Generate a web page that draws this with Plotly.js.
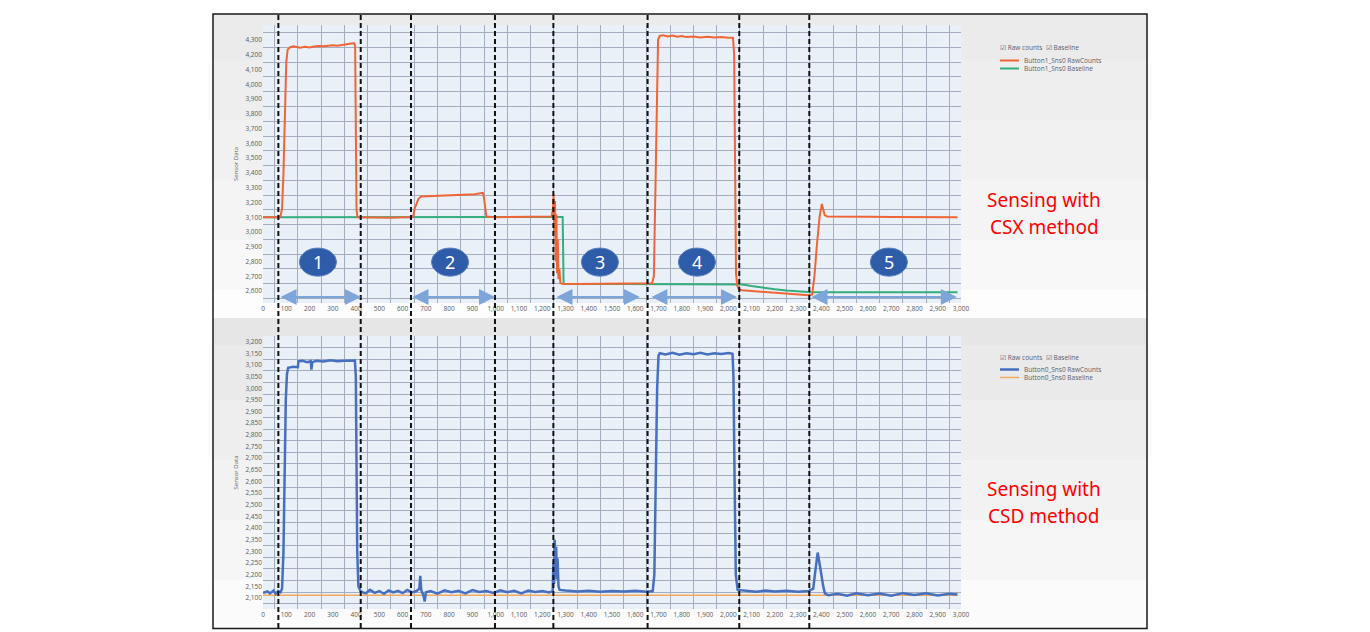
<!DOCTYPE html>
<html><head><meta charset="utf-8">
<script src="https://cdn.plot.ly/plotly-3.0.1.min.js"></script>
<style>html,body{margin:0;padding:0;background:#fff;}#chart{width:1370px;height:632px;}</style>
</head><body><div id="chart"></div>
<script>
// ---------- data ----------
const xTicks = [0,100,200,300,400,500,600,700,800,900,1000,1100,1200,1300,1400,1500,1600,1700,1800,1900,2000,2100,2200,2300,2400,2500,2600,2700,2800,2900,3000];
const csxYTicks = [2600,2700,2800,2900,3000,3100,3200,3300,3400,3500,3600,3700,3800,3900,4000,4100,4200,4300];
const csdYTicks = [2100,2150,2200,2250,2300,2350,2400,2450,2500,2550,2600,2650,2700,2750,2800,2850,2900,2950,3000,3050,3100,3150,3200];

const csxRawX = [0,40,60,75,82,88,94,100,106,115,130,145,160,180,200,220,240,260,280,300,320,340,360,380,392,396,399,402,406,450,500,550,600,640,646,652,660,668,680,720,760,800,840,880,910,935,945,950,955,960,1000,1100,1200,1240,1246,1249,1252,1255,1258,1261,1264,1267,1270,1274,1278,1285,1350,1450,1550,1650,1672,1680,1686,1692,1698,1705,1720,1740,1760,1780,1800,1820,1850,1880,1910,1940,1970,2000,2020,2025,2029,2033,2038,2045,2060,2100,2150,2200,2250,2300,2345,2360,2370,2380,2392,2402,2408,2414,2425,2500,2600,2700,2800,2900,2985];
const csxRawY = [3100,3098,3100,3105,3160,3400,3800,4150,4235,4250,4258,4252,4248,4255,4250,4256,4260,4258,4263,4265,4262,4268,4272,4276,4278,4260,3700,3150,3100,3098,3100,3097,3100,3100,3110,3160,3190,3225,3240,3242,3245,3246,3248,3250,3255,3262,3265,3230,3150,3105,3100,3100,3102,3105,3150,3255,3000,3210,2800,3120,2720,2950,2680,2750,2655,2650,2648,2650,2649,2650,2652,2700,3300,4000,4300,4328,4332,4325,4330,4322,4327,4320,4324,4318,4322,4317,4320,4316,4315,4200,3300,2720,2640,2612,2605,2600,2596,2590,2585,2578,2572,2575,2700,2900,3100,3190,3160,3115,3105,3102,3103,3101,3102,3101,3100];
const csxBaseX = [0,1240,1288,1292,2045,2060,2100,2150,2200,2250,2300,2350,2360,2985];
const csxBaseY = [3100,3102,3102,2650,2650,2645,2634,2622,2612,2604,2598,2594,2592,2592];

const csdRawX = [0,20,30,45,55,65,75,82,88,93,98,103,108,130,150,152,170,190,205,208,212,230,260,290,320,350,380,395,399,402,405,410,420,440,460,480,500,520,540,560,580,600,620,640,660,672,676,680,690,695,700,720,750,780,810,840,870,900,930,960,990,1020,1050,1080,1110,1140,1170,1200,1230,1245,1248,1251,1254,1257,1260,1263,1266,1270,1275,1300,1350,1400,1450,1500,1550,1600,1650,1675,1682,1688,1694,1700,1705,1730,1760,1790,1820,1850,1880,1910,1940,1970,2000,2018,2022,2027,2032,2040,2080,2120,2160,2200,2250,2300,2345,2365,2372,2380,2384,2390,2396,2402,2408,2415,2430,2470,2510,2550,2600,2650,2700,2750,2800,2850,2900,2950,2985];
const csdRawY = [2122,2128,2120,2132,2118,2130,2125,2140,2300,2700,2950,3060,3088,3092,3090,3115,3118,3112,3116,3080,3112,3118,3115,3120,3116,3118,3117,3119,3050,2700,2300,2150,2128,2120,2135,2122,2130,2118,2133,2124,2131,2121,2135,2124,2130,2140,2195,2135,2110,2085,2125,2130,2119,2133,2125,2131,2120,2134,2126,2130,2122,2133,2125,2131,2120,2132,2126,2130,2124,2130,2250,2160,2350,2200,2320,2180,2270,2150,2135,2132,2128,2131,2127,2130,2128,2131,2127,2130,2200,2600,3000,3140,3150,3145,3152,3144,3150,3146,3152,3145,3150,3147,3151,3148,3050,2600,2200,2135,2130,2127,2132,2128,2131,2127,2130,2140,2200,2280,2295,2260,2220,2200,2150,2120,2112,2118,2110,2120,2112,2119,2110,2121,2113,2120,2111,2118,2115];
const csdBaseX = [0,1000,2000,2985];
const csdBaseY = [2112,2112,2112,2112];

const boundaryX = [66,420,636,997,1248,1653,2047,2348];
const stepLabels = ['1','2','3','4','5'];
const stepCenterX = [236,804,1448,1865,2690];
const stepCenterY = 2796;
const arrowStartX = [69,636,1255,1663,2351];
const arrowEndX = [421,997,1620,2037,2982];
const arrowY = 2559;

// ---------- helpers (pixel -> paper) ----------
const W = 1370, H = 632;
const px = x => x / W;
const py = y => 1 - y / H;

const tickFont = {family: 'Open Sans, sans-serif', size: 6.5, color: '#5a5a5a'};
const gridCol = '#a3adbd';
const plotBg = '#eaf0f8';

function xAxis(anchor) {
  return {domain: [px(263), px(961)], range: [0, 3000], anchor: anchor,
    tickmode: 'array', tickvals: xTicks, tickformat: ',d', tickfont: tickFont,
    showgrid: false, zeroline: false, showline: false, ticks: '',
    minor: {tickmode: 'linear', tick0: 50, dtick: 100, showgrid: true, gridcolor: gridCol, gridwidth: 1, ticks: ''}};
}
function yAxis(anchor, domain, range, ticks, minor0, minorStep) {
  return {domain: domain, range: range, anchor: anchor,
    tickmode: 'array', tickvals: ticks, tickformat: ',d', tickfont: tickFont,
    showgrid: false, zeroline: false, showline: false, ticks: '',
    title: {text: 'Sensor Data', font: {family: 'Open Sans, sans-serif', size: 6, color: '#666'}, standoff: 6},
    minor: {tickmode: 'linear', tick0: minor0, dtick: minorStep, showgrid: true, gridcolor: gridCol, gridwidth: 1, ticks: ''}};
}

const traces = [
  {x: csxBaseX, y: csxBaseY, xaxis: 'x', yaxis: 'y', mode: 'lines', name: 'Button1_Sns0 Baseline', line: {color: '#35ad7c', width: 2}, showlegend: false},
  {x: csxRawX, y: csxRawY, xaxis: 'x', yaxis: 'y', mode: 'lines', name: 'Button1_Sns0 RawCounts', line: {color: '#ef6535', width: 2}, showlegend: false},
  {x: csdBaseX, y: csdBaseY, xaxis: 'x2', yaxis: 'y2', mode: 'lines', name: 'Button0_Sns0 Baseline', line: {color: '#f2a95e', width: 1.5}, showlegend: false},
  {x: csdRawX, y: csdRawY, xaxis: 'x2', yaxis: 'y2', mode: 'lines', name: 'Button0_Sns0 RawCounts', line: {color: '#4670bf', width: 2.5}, showlegend: false}
];

const shapes = [];
// panel backgrounds (graded bands)
const bands = [[14,60,'#ebebeb'],[60,120,'#eeeeee'],[120,180,'#f1f1f1'],[180,240,'#f4f4f4'],[240,290,'#f8f8f8'],[290,318,'#fdfdfd'],
  [318,345,'#e6e6e6'],[345,400,'#eaeaea'],[400,460,'#eeeeee'],[460,520,'#f2f2f2'],[520,580,'#f6f6f6'],[580,629,'#fbfbfb']];
bands.forEach(b => shapes.push({type: 'rect', xref: 'paper', yref: 'paper', x0: px(213), x1: px(1147), y0: py(b[1]), y1: py(b[0]), fillcolor: b[2], line: {width: 0}, layer: 'below'}));
// plot-area backgrounds (drawn over the bands, under the grid)
[[25,303],[336,609]].forEach(r => shapes.push({type: 'rect', xref: 'paper', yref: 'paper', x0: px(263), x1: px(961), y0: py(r[1]), y1: py(r[0]), fillcolor: plotBg, line: {width: 0}, layer: 'below'}));
// outer frame
shapes.push({type: 'rect', xref: 'paper', yref: 'paper', x0: px(213), x1: px(1147), y0: py(628.5), y1: py(14), line: {color: '#1a1a1a', width: 1.5}, fillcolor: 'rgba(0,0,0,0)', layer: 'above'});
// dashed boundary lines across both panels
boundaryX.forEach(x => shapes.push({type: 'line', xref: 'x', yref: 'paper', x0: x, x1: x, y0: py(628), y1: py(14), line: {color: '#111', width: 2, dash: '5px,3px'}, layer: 'above'}));
// numbered step badges
stepCenterX.forEach(x => shapes.push({type: 'circle', xref: 'x', yref: 'y', x0: x - 80, x1: x + 80, y0: stepCenterY - 95, y1: stepCenterY + 95, fillcolor: '#2f5ca9', line: {color: '#5b80c0', width: 1}, layer: 'above'}));
// manual legends
const legendLines = [[60.5,'#ef6535',2],[68.5,'#35ad7c',2],[369.5,'#4670bf',2.5],[377.5,'#f2a95e',1.5]];
legendLines.forEach(l => shapes.push({type: 'line', xref: 'paper', yref: 'paper', x0: px(1000), x1: px(1019), y0: py(l[0]), y1: py(l[0]), line: {color: l[1], width: l[2]}}));

const annotations = [];
stepLabels.forEach((t, i) => annotations.push({xref: 'x', yref: 'y', x: stepCenterX[i], y: stepCenterY, text: t, showarrow: false, font: {family: 'Noto Sans, sans-serif', size: 18, color: '#ffffff'}}));
arrowStartX.forEach((s, i) => annotations.push({xref: 'x', yref: 'y', axref: 'x', ayref: 'y', x: arrowEndX[i], y: arrowY, ax: s, ay: arrowY, text: '', showarrow: true, arrowside: 'end+start', arrowhead: 2, startarrowhead: 2, arrowsize: 1.6, startarrowsize: 1.6, arrowwidth: 2, arrowcolor: '#7ea5da', standoff: 0, startstandoff: 0}));
const legFont = {family: 'Open Sans, sans-serif', size: 6.5, color: '#5d5d6e'};
const legendTexts = [[998,48,'☑ Raw counts  ☑ Baseline'],[1022,60.5,'Button1_Sns0 RawCounts'],[1022,68.5,'Button1_Sns0 Baseline'],
  [998,357.5,'☑ Raw counts  ☑ Baseline'],[1022,369.5,'Button0_Sns0 RawCounts'],[1022,377.5,'Button0_Sns0 Baseline']];
legendTexts.forEach(t => annotations.push({xref: 'paper', yref: 'paper', x: px(t[0]), y: py(t[1]), xanchor: 'left', yanchor: 'middle', text: t[2], showarrow: false, font: legFont}));
const redFont = {family: 'Noto Sans, sans-serif', size: 19, color: '#ff0000'};
[[200,'Sensing with'],[227,'CSX method'],[489,'Sensing with'],[516,'CSD method']].forEach(t => annotations.push({xref: 'paper', yref: 'paper', x: px(1044), y: py(t[0]), xanchor: 'center', yanchor: 'middle', text: t[1], showarrow: false, font: redFont}));

const layout = {
  width: W, height: H, margin: {l: 0, r: 0, t: 0, b: 0},
  paper_bgcolor: '#ffffff', plot_bgcolor: plotBg, showlegend: false,
  xaxis: xAxis('y'),
  yaxis: yAxis('x', [py(303), py(25)], [2519, 4402], csxYTicks, 2550, 100),
  xaxis2: xAxis('y2'),
  yaxis2: yAxis('x2', [py(609), py(336)], [2053, 3224], csdYTicks, 2075, 50),
  shapes: shapes, annotations: annotations
};

Plotly.newPlot('chart', traces, layout, {displayModeBar: false, staticPlot: true});
</script></body></html>
